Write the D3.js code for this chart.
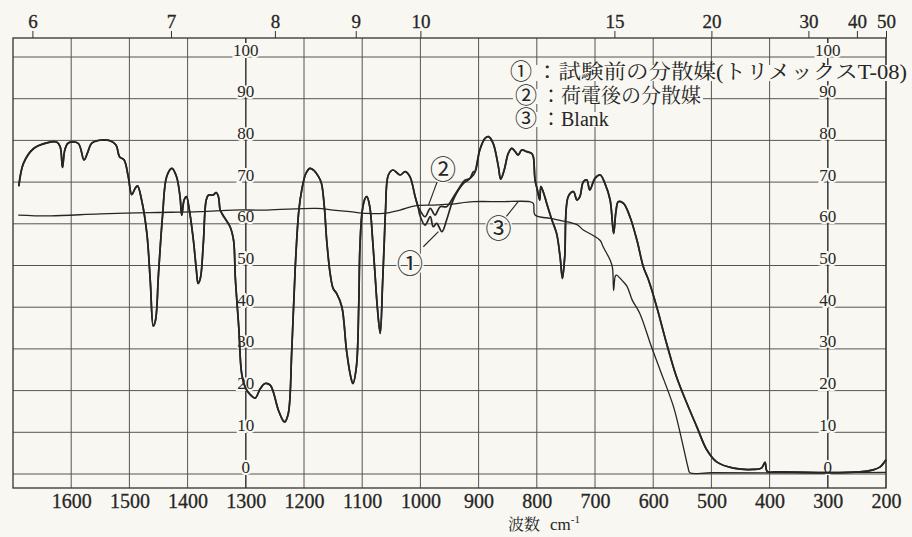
<!DOCTYPE html>
<html>
<head>
<meta charset="utf-8">
<script src="https://cdn.jsdelivr.net/npm/d3@7/dist/d3.min.js"></script>
<style>
  body { margin: 0; background: #f8f7f1; }
  svg { display: block; }
  .serif { font-family: "Liberation Serif", serif; }
  .mixed { font-family: "Liberation Serif", "Noto Serif CJK JP", serif; }
  .cjk { font-family: "Noto Serif CJK JP", "Noto Sans CJK JP", serif; }
  .circled { font-family: "Noto Sans CJK JP", sans-serif; }
</style>
</head>
<body>
<div id="chart"></div>
<script>
// --- axis values ---
const wavenumberTicks = [1600, 1500, 1400, 1300, 1200, 1100, 1000, 900, 800, 700, 600, 500, 400, 300, 200];
const wavelengthTicks = [6, 7, 8, 9, 10, 15, 20, 30, 40, 50];
const transmittanceTicks = [0, 10, 20, 30, 40, 50, 60, 70, 80, 90, 100];
const ordinateAxes = [1300, 300];

// --- spectra: [wavenumber cm-1, %T] ---
// ① and ② lie on top of each other except between 1004 and 906 cm-1
const sampleHead = [
  [1690, 69], [1682, 74.5], [1665, 78], [1642, 79.4], [1625, 79.6], [1619, 78.5], [1615, 73.5],
  [1611, 77.7], [1605, 79.4], [1588, 79.3], [1578, 75.3], [1572, 77], [1565, 79.3], [1548, 80.1],
  [1533, 79.9], [1523, 78.9], [1517, 76.1], [1509, 75.3], [1502, 71.3], [1496, 67], [1490, 68.5],
  [1486, 69.1], [1479, 65.7], [1470, 57.7], [1464, 46], [1459, 35.5], [1455, 37], [1450, 48],
  [1443, 62], [1436, 71.3], [1427, 73.3], [1419, 71.3], [1413, 66.5], [1410, 62.1], [1406, 65.7],
  [1402, 66.5], [1397, 63.3], [1390, 56], [1385, 49], [1382, 45.7], [1378, 47], [1373, 55.3],
  [1368, 65.7], [1364, 66.9], [1356, 66.9], [1351, 67.5], [1347, 66.5], [1344, 63.3], [1339, 62],
  [1327, 59.3], [1321, 56], [1318, 47], [1312, 35], [1307, 24], [1300, 20.5], [1292, 19],
  [1284, 18.2], [1275, 20.5], [1267, 21.7], [1258, 21.3], [1244, 15.3], [1236, 12.8], [1233, 12.5],
  [1227, 14.5], [1221, 29.7], [1215, 49.7], [1209, 63], [1204, 68], [1197, 72], [1190, 73.3],
  [1183, 72.8], [1175, 71.3], [1170, 69.7], [1165, 64], [1161, 56], [1155, 48], [1150, 44.5],
  [1144, 43.3], [1135, 40.1], [1127, 29.7], [1120, 23.5], [1116, 21.7], [1110, 25.7], [1106, 40],
  [1104, 54], [1100, 63], [1095, 66.1], [1092, 66.5], [1087, 64.1], [1082, 56], [1078, 48],
  [1074, 40], [1069, 33.7], [1065, 45.7], [1062, 56], [1060, 63], [1055, 71.7], [1047, 72.9],
  [1035, 71.7], [1026, 72.5], [1018, 71.3], [1009, 66.5], [1004, 64.1]
];
const sample1Mid = [
  [1001, 62.1], [992, 59.7], [983, 61.7], [978, 59.3], [972, 60.1], [963, 58.1], [955, 60.9],
  [946, 64.9], [938, 67.3], [926, 69.7], [918, 70.5], [909, 71.7]
];
const sample2Mid = [
  [1001, 63.3], [992, 61.7], [983, 63.7], [975, 62.1], [966, 64.1], [955, 64.1], [943, 66.5],
  [932, 68.9], [923, 70.5], [915, 70.9], [909, 72.5]
];
const sampleTail = [
  [906, 72.5], [898, 77.7], [889, 80.5], [883, 80.9], [875, 79.3], [866, 73.7], [862, 70.7],
  [856, 72.9], [849, 76.9], [843, 78.1], [837, 77.3], [832, 76.5], [826, 77.7], [817, 77.3],
  [809, 76.9], [806, 76.1], [803, 70.5], [799, 68.1], [795, 65.7], [793, 68.9], [789, 67.7],
  [783, 64.9], [774, 60.9], [766, 57.7], [760, 52.1], [756, 46.9], [752, 52.1], [746, 66.5],
  [737, 67.7], [731, 65.7], [726, 66.5], [720, 70.1], [714, 70.5], [709, 68.1], [700, 70.9],
  [691, 71.7], [683, 69.7], [674, 65.7], [668, 57.7], [664, 63], [660, 65.3], [651, 64.9],
  [640, 61.7], [628, 56.1], [617, 49.7], [608, 46.5], [594, 40.1], [577, 31.3], [560, 23.3],
  [542, 16.9], [525, 11.3], [508, 5.8], [491, 2.9], [462, 1.4], [428, 1.1], [414, 1.4],
  [408, 2.8], [404, 0.6], [388, 0.5], [245, 0.5], [222, 1.0], [210, 1.7], [200, 3.4]
];
const blank = [
  [1691, 62.1], [1636, 61.9], [1550, 62.4], [1465, 62.7], [1379, 62.9], [1321, 63.3], [1264, 63.3],
  [1178, 63.7], [1150, 63.3], [1121, 62.9], [1092, 62.5], [1064, 62.5], [1035, 63.3], [1009, 64.3],
  [978, 64.5], [949, 64.7], [909, 65.3], [863, 65.3], [812, 65.3], [806, 64.9], [803, 62.1],
  [777, 61.3], [760, 60.8], [731, 59.8], [720, 58.5], [703, 57.2], [691, 56], [686, 54.5],
  [674, 51.3], [670, 49.5], [668, 44], [665, 47.5], [663, 47.7], [654, 46.5], [645, 45],
  [636, 41.7], [623, 38.5], [603, 30.5], [588, 24.9], [565, 16.1], [551, 8.2], [540, 1.5],
  [537, 0.3], [500, 0.3], [300, 0.3], [200, 0.4]
];

const legendMarks = ["①", "②", "③"];
const legendLabels = ["：試験前の分散媒(トリメックスT-08)", "：荷電後の分散媒", "：Blank"];
// callouts: label position and leader line, in [cm-1, %T]
const callouts = [
  { label: "②", at: [961, 73.4], from: [969, 70.9], to: [986, 64.5] },
  { label: "①", at: [1018, 50.9], from: [995, 54.5], to: [969, 58.1] },
  { label: "③", at: [866, 59.3], from: [855, 61.3], to: [832, 65.3] }
];

const width = 912, height = 537;
const frame = { left: 13, right: 886, top: 38, bottom: 488 };
const bg = "#f8f7f1", ink = "#262626", gridInk = "#555";

const x = d3.scaleLinear().domain([1700, 200]).range([frame.left, frame.right]);
const y = d3.scaleLinear().domain([0, 100]).range([474, 57]);

const svg = d3.select("#chart").append("svg")
  .attr("width", width)
  .attr("height", height);

svg.append("rect").attr("width", width).attr("height", height).attr("fill", bg);

// grid
const grid = svg.append("g").attr("class", "grid")
  .attr("stroke", gridInk).attr("stroke-width", 1);
grid.selectAll(".v")
  .data(wavenumberTicks)
  .join("line")
  .attr("x1", d => x(d)).attr("x2", d => x(d))
  .attr("y1", frame.top).attr("y2", frame.bottom);
grid.selectAll(".h")
  .data(transmittanceTicks)
  .join("line")
  .attr("x1", frame.left).attr("x2", frame.right)
  .attr("y1", d => y(d)).attr("y2", d => y(d));

// frame
svg.append("rect")
  .attr("x", frame.left).attr("y", frame.top)
  .attr("width", frame.right - frame.left).attr("height", frame.bottom - frame.top)
  .attr("fill", "none").attr("stroke", "#333").attr("stroke-width", 1.3);

// bottom axis (wavenumber)
const gX = svg.append("g")
  .attr("transform", "translate(0," + frame.bottom + ")")
  .call(d3.axisBottom(x).tickValues(wavenumberTicks).tickFormat(d3.format("d")).tickSize(0).tickPadding(6));
gX.select(".domain").remove();
gX.attr("font-family", null).attr("font-size", null);
gX.selectAll("text")
  .attr("class", "serif")
  .style("font-size", "20px").attr("fill", ink)
  .attr("stroke", ink).attr("stroke-width", 0.3);

// top axis (wavelength, um)
const gT = svg.append("g")
  .attr("transform", "translate(0," + frame.top + ")")
  .call(d3.axisTop(x)
    .tickValues(wavelengthTicks.map(l => 10000 / l))
    .tickFormat((d, i) => wavelengthTicks[i])
    .tickSize(7).tickPadding(3));
gT.select(".domain").remove();
gT.attr("font-family", null).attr("font-size", null);
gT.selectAll("line").attr("stroke", "#333");
gT.selectAll("text")
  .attr("class", "serif")
  .style("font-size", "19px").attr("fill", ink)
  .attr("stroke", ink).attr("stroke-width", 0.3);

// x label
const xl = svg.append("text")
  .attr("class", "serif")
  .attr("x", 508).attr("y", 530)
  .style("font-size", "17px").attr("fill", ink);
xl.append("tspan").attr("class", "cjk").style("font-size", "16px").text("波数");
xl.append("tspan").attr("dx", 10).text("cm");
xl.append("tspan").attr("dy", -7).style("font-size", "11px").text("-1");

// ordinate scales drawn inside the plot
ordinateAxes.forEach(w => {
  const g = svg.append("g").attr("class", "ordinate");
  g.append("line")
    .attr("x1", x(w)).attr("x2", x(w))
    .attr("y1", frame.top).attr("y2", frame.bottom)
    .attr("stroke", "#333").attr("stroke-width", 1.2);
  g.selectAll("text")
    .data(transmittanceTicks)
    .join("text")
    .attr("class", "serif")
    .attr("x", x(w))
    .attr("y", d => y(d) - 1.5)
    .attr("text-anchor", "middle")
    .style("font-size", "17px")
    .attr("fill", ink)
    .attr("stroke", bg).attr("stroke-width", 4).attr("paint-order", "stroke")
    .text(d => d);
});

// spectra
const line = d3.line()
  .x(d => x(d[0]))
  .y(d => y(d[1]))
  .curve(d3.curveCatmullRom.alpha(0.5));

const series = [
  { name: "blank", data: blank, w: 1.3 },
  { name: "s1", data: sampleHead.concat(sample1Mid, sampleTail), w: 1.7 },
  { name: "s2", data: sampleHead.concat(sample2Mid, sampleTail), w: 1.7 }
];
svg.append("g").selectAll("path")
  .data(series)
  .join("path")
  .attr("d", d => line(d.data))
  .attr("fill", "none")
  .attr("stroke", ink)
  .attr("stroke-width", d => d.w)
  .attr("stroke-linejoin", "round");

// callouts
const co = svg.append("g");
co.selectAll("line")
  .data(callouts)
  .join("line")
  .attr("x1", d => x(d.from[0])).attr("y1", d => y(d.from[1]))
  .attr("x2", d => x(d.to[0])).attr("y2", d => y(d.to[1]))
  .attr("stroke", ink).attr("stroke-width", 1.1);
co.selectAll("text")
  .data(callouts)
  .join("text")
  .attr("class", "circled")
  .attr("x", d => x(d.at[0])).attr("y", d => y(d.at[1]))
  .attr("text-anchor", "middle").attr("dominant-baseline", "central")
  .style("font-size", "26px").attr("fill", ink)
  .attr("stroke", bg).attr("stroke-width", 3).attr("paint-order", "stroke")
  .text(d => d.label);

// legend: background strips first, then the rows on top
const legendRows = [{ x: 510, y: 79 }, { x: 515, y: 103 }, { x: 515, y: 126 }];
const lgBack = svg.append("g");
const lg = svg.append("g").attr("class", "legend");
legendLabels.forEach((t, i) => {
  const r = legendRows[i];
  lg.append("text")
    .attr("class", "circled")
    .attr("x", r.x).attr("y", r.y)
    .style("font-size", "22px").attr("fill", ink)
    .text(legendMarks[i]);
  const txt = lg.append("text")
    .attr("class", "mixed")
    .attr("x", r.x + 26).attr("y", r.y)
    .style("font-size", "20px").attr("fill", ink)
    .text(t);
  if (i === 0) txt.attr("textLength", 371).attr("lengthAdjust", "spacingAndGlyphs");
  const b = txt.node().getBBox();
  lgBack.append("rect")
    .attr("x", r.x - 2).attr("y", b.y + 4)
    .attr("width", b.x + b.width - r.x + 4).attr("height", b.height - 7)
    .attr("fill", bg);
});
</script>
</body>
</html>
